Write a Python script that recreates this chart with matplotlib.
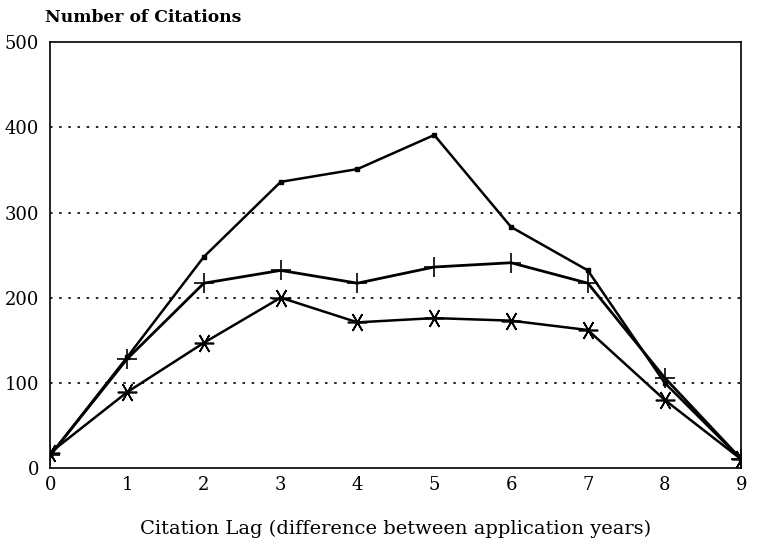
import matplotlib.pyplot as plt

lags = [0, 1, 2, 3, 4, 5, 6, 7, 8, 9]
squares = [15, 130, 248, 336, 351, 391, 283, 232, 100, 10]
plus = [15, 128, 217, 232, 217, 236, 241, 217, 106, 10]
stars = [18, 89, 147, 200, 171, 176, 173, 162, 80, 10]

y_ticks = [0, 100, 200, 300, 400, 500]

plt.rcParams["font.family"] = ["DejaVu Serif"]

fig = plt.figure(figsize=(7.62, 5.41), dpi=100)
ax = fig.add_axes([0.066, 0.135, 0.907, 0.787])

for y in y_ticks[1:-1]:
    ax.axhline(y, color="black", linestyle=(0, (1.5, 4)), linewidth=1.2, zorder=1)

ax.plot(lags, squares, color="black", linewidth=1.8, marker="s", markersize=3.5,
        zorder=3)
ax.plot(lags, plus, color="black", linewidth=2.0, marker="+", markersize=14,
        markeredgewidth=1.2, zorder=3)
ax.plot(lags, stars, color="black", linewidth=1.8, marker=(6, 2, 90),
        markersize=14, markeredgewidth=1.2, zorder=3)

ax.set_xlim(0, 9)
ax.set_ylim(0, 500)
ax.set_xticks(lags)
ax.set_yticks(y_ticks)
ax.tick_params(length=0, labelsize=13, pad=6)
ax.tick_params(axis="y", pad=8)
for s in ax.spines.values():
    s.set_linewidth(1.2)

ax.set_xlabel("Citation Lag (difference between application years)",
              fontsize=14, labelpad=18)
fig.text(0.059, 0.968, "Number of Citations", fontsize=12.3, fontweight="bold",
         va="center", ha="left")

fig.savefig("out.png", dpi=100)
